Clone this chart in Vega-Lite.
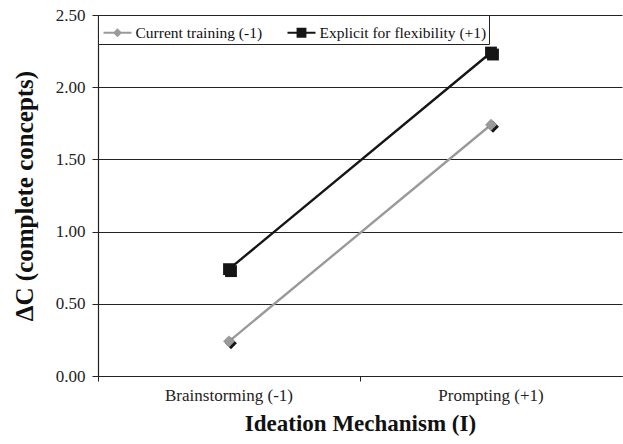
{
  "$schema": "https://vega.github.io/schema/vega-lite/v6.json",
  "width": 524,
  "height": 361,
  "autosize": "none",
  "padding": {"left": 98, "top": 15, "right": 1, "bottom": 68},
  "background": "white",
  "config": {
    "view": {"stroke": null},
    "font": "Liberation Serif",
    "axis": {"labelFont": "Liberation Serif", "titleFont": "Liberation Serif", "labelColor": "#222", "titleColor": "#111", "domainColor": "#222", "tickColor": "#222", "gridColor": "#222"}
  },
  "data": {
    "values": [
      {"mechanism": "Brainstorming (-1)", "training": "Current training (-1)", "dc": 0.24},
      {"mechanism": "Prompting (+1)", "training": "Current training (-1)", "dc": 1.74},
      {"mechanism": "Brainstorming (-1)", "training": "Explicit for flexibility (+1)", "dc": 0.74},
      {"mechanism": "Prompting (+1)", "training": "Explicit for flexibility (+1)", "dc": 2.24}
    ]
  },
  "encoding": {
    "x": {
      "field": "mechanism", "type": "nominal", "bandPosition": 0.5,
      "scale": {"type": "band", "paddingInner": 0, "paddingOuter": 0},
      "axis": {"title": "Ideation Mechanism (I)", "labelAngle": 0, "bandPosition": 0, "labelFontSize": 17, "titleFontSize": 23, "titleFontWeight": "bold", "tickSize": 5, "labelPadding": 6, "titlePadding": 9, "domainWidth": 1.2, "tickWidth": 1}
    },
    "y": {
      "field": "dc", "type": "quantitative",
      "scale": {"domain": [0, 2.5]},
      "axis": {"title": "ΔC (complete concepts)", "values": [0, 0.5, 1, 1.5, 2, 2.5], "format": ".2f", "labelFontSize": 17, "titleFontSize": 25, "titleFontWeight": "bold", "tickSize": 6, "labelPadding": 7, "titlePadding": 18, "grid": true, "gridWidth": 1, "domainWidth": 1.2}
    },
    "color": {"field": "training", "type": "nominal", "scale": {"domain": ["Current training (-1)", "Explicit for flexibility (+1)"], "range": ["#9a9a9a", "#151515"]},
      "legend": {
        "title": null, "orient": "top-left", "direction": "horizontal", "offset": 0,
        "strokeColor": "#222", "fillColor": "white", "padding": 2.5,
        "labelFont": "Liberation Serif", "labelFontSize": 15.5, "labelColor": "#111", "labelLimit": 300,
        "symbolSize": 784, "symbolOffset": 2, "labelOffset": 3, "columnPadding": 21,
        "symbolStrokeWidth": 2, "symbolOpacity": 1,
        "encode": {
          "symbols": {
            "update": {
              "shape": {"signal": "datum.value == 'Current training (-1)' ? 'M-1,0L1,0M0,-0.22L0.22,0L0,0.22L-0.22,0Z' : 'M-1,0L1,0M-0.28,-0.28L0.28,-0.28L0.28,0.28L-0.28,0.28Z'"},
              "fill": {"signal": "datum.value == 'Current training (-1)' ? '#9a9a9a' : '#151515'"},
              "stroke": {"signal": "datum.value == 'Current training (-1)' ? '#9a9a9a' : '#151515'"}
            }
          }
        }
      }
    }
  },
  "layer": [
    {
      "mark": {"type": "line", "strokeWidth": 2.4}
    },
    {
      "transform": [{"filter": "datum.training == 'Current training (-1)'"}],
      "mark": {"type": "point", "shape": "diamond", "filled": true, "opacity": 1, "size": 140, "xOffset": 2, "yOffset": 2, "color": "#151515"},
      "encoding": {"color": {"value": "#151515"}}
    },
    {
      "transform": [{"filter": "datum.training == 'Explicit for flexibility (+1)'"}],
      "mark": {"type": "point", "shape": "square", "filled": true, "opacity": 1, "size": 140, "xOffset": 2, "yOffset": 2, "color": "#151515"},
      "encoding": {"color": {"value": "#151515"}}
    },
    {
      "transform": [{"filter": "datum.training == 'Current training (-1)'"}],
      "mark": {"type": "point", "shape": "diamond", "filled": true, "opacity": 1, "size": 140}
    },
    {
      "transform": [{"filter": "datum.training == 'Explicit for flexibility (+1)'"}],
      "mark": {"type": "point", "shape": "square", "filled": true, "opacity": 1, "size": 140}
    }
  ]
}
